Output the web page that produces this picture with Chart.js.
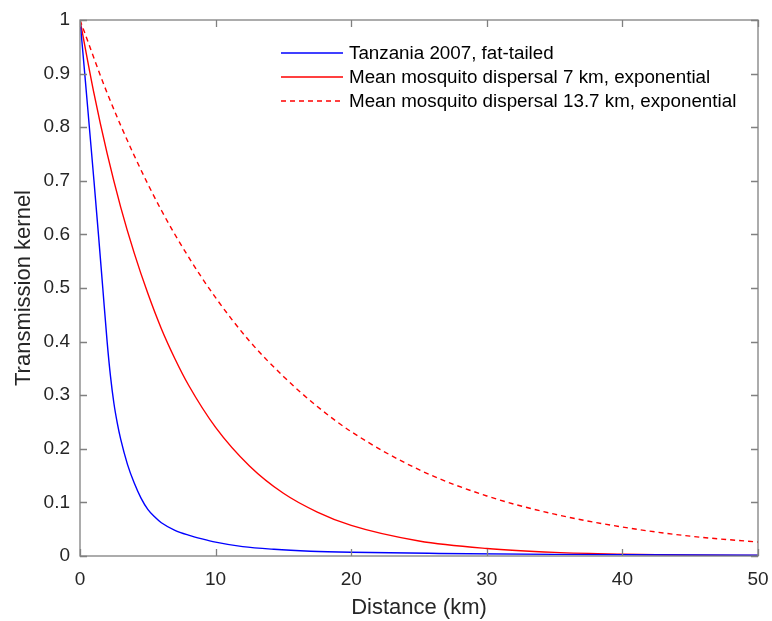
<!DOCTYPE html>
<html><head><meta charset="utf-8">
<script src="https://cdn.jsdelivr.net/npm/chart.js@4/dist/chart.umd.min.js"></script>
<style>html,body{margin:0;padding:0;background:#fff;}#wrap{width:772px;height:621px;}</style>
</head><body><div id="wrap"><canvas id="c" width="772" height="621"></canvas></div>
<script>
const seriesLabels = ["Tanzania 2007, fat-tailed", "Mean mosquito dispersal 7 km, exponential", "Mean mosquito dispersal 13.7 km, exponential"];
const tanzaniaX = [0, 0.35, 0.69, 1.03, 1.36, 1.68, 2.0, 2.25, 2.5, 2.75, 3.0, 3.5, 4.0, 4.5, 5.0, 5.5, 6.0, 7.0, 8.0, 9.0, 10, 12, 14.3, 17, 20, 26.5, 35, 50];
const tanzaniaY = [1, 0.9, 0.8, 0.7, 0.6, 0.5, 0.4, 0.335, 0.285, 0.248, 0.218, 0.171, 0.136, 0.108, 0.087, 0.073, 0.062, 0.048, 0.039, 0.032, 0.026, 0.0175, 0.0125, 0.009, 0.007, 0.0048, 0.003, 0.0015];
const disp7X = [0, 1, 2, 3, 4, 5, 6, 7, 8, 10, 12.5, 15, 17.5, 20, 25, 30, 35, 40, 45, 50];
const disp7Y = [1, 0.867, 0.751, 0.651, 0.565, 0.49, 0.424, 0.368, 0.319, 0.24, 0.168, 0.117, 0.082, 0.057, 0.028, 0.014, 0.0067, 0.0033, 0.0016, 0.0008];
const disp137X = [0, 2, 4, 6, 8, 10, 12.5, 15, 17.5, 20, 25, 30, 35, 40, 45, 50];
const disp137Y = [1, 0.864, 0.747, 0.645, 0.558, 0.482, 0.401, 0.335, 0.279, 0.232, 0.161, 0.112, 0.078, 0.054, 0.037, 0.026];
const xTicks = [0, 10, 20, 30, 40, 50];
const yTicks = [0, 0.1, 0.2, 0.3, 0.4, 0.5, 0.6, 0.7, 0.8, 0.9, 1];

const pts = (xs, ys) => xs.map((x, i) => ({x: x, y: ys[i]}));
const AX = '#808080';
const FONT = "'Liberation Sans', Arial, sans-serif";

const boxTicks = {
  id: 'boxTicks',
  afterDraw(chart) {
    const ctx = chart.ctx, a = chart.chartArea, xs = chart.scales.x, ys = chart.scales.y;
    ctx.save();
    ctx.strokeStyle = AX; ctx.lineWidth = 1.3;
    ctx.strokeRect(a.left, a.top, a.right - a.left, a.bottom - a.top);
    const L = 7;
    ctx.beginPath();
    xTicks.forEach(v => { const p = Math.round(xs.getPixelForValue(v)) + 0.5;
      ctx.moveTo(p, a.bottom); ctx.lineTo(p, a.bottom - L);
      ctx.moveTo(p, a.top); ctx.lineTo(p, a.top + L); });
    yTicks.forEach(v => { const p = Math.round(ys.getPixelForValue(v)) + 0.5;
      ctx.moveTo(a.left, p); ctx.lineTo(a.left + L, p);
      ctx.moveTo(a.right, p); ctx.lineTo(a.right - L, p); });
    ctx.stroke();
    // legend
    const lx = 281, ly = 53, dy = 24;
    chart.data.datasets.forEach((d, i) => {
      const y = ly + i * dy;
      ctx.beginPath();
      ctx.strokeStyle = d.borderColor; ctx.lineWidth = 1.3;
      ctx.setLineDash(d.borderDash || []);
      ctx.moveTo(lx, y); ctx.lineTo(lx + 62, y); ctx.stroke();
      ctx.setLineDash([]);
      ctx.fillStyle = '#000'; ctx.font = '18.8px ' + FONT;
      ctx.textBaseline = 'middle'; ctx.textAlign = 'left';
      ctx.fillText(d.label, lx + 68, y + 1);
    });
    ctx.restore();
  }
};

new Chart(document.getElementById('c'), {
  type: 'line',
  data: {
    datasets: [
      {label: seriesLabels[0], data: pts(tanzaniaX, tanzaniaY), borderColor: '#0000ff', borderWidth: 1.4, pointRadius: 0, cubicInterpolationMode: 'monotone', fill: false},
      {label: seriesLabels[1], data: pts(disp7X, disp7Y), borderColor: '#ff0000', borderWidth: 1.4, pointRadius: 0, cubicInterpolationMode: 'monotone', fill: false},
      {label: seriesLabels[2], data: pts(disp137X, disp137Y), borderColor: '#ff0000', borderWidth: 1.4, borderDash: [5, 4], pointRadius: 0, cubicInterpolationMode: 'monotone', fill: false}
    ]
  },
  options: {
    responsive: false, animation: false,
    layout: {padding: {left: 0, right: 14, top: 20, bottom: 0}},
    plugins: {legend: {display: false}, tooltip: {enabled: false}},
    scales: {
      x: {
        type: 'linear', min: 0, max: 50,
        afterBuildTicks: s => { s.ticks = xTicks.map(v => ({value: v})); },
        afterFit: s => { s.height = 65; s.paddingLeft = 0; s.paddingRight = 0; },
        grid: {display: false, drawTicks: false},
        border: {display: false},
        ticks: {color: '#262626', font: {size: 19, family: FONT}, padding: 12, maxRotation: 0},
        title: {display: true, text: 'Distance (km)', color: '#262626', font: {size: 22, family: FONT}, padding: {top: 0, bottom: 0}}
      },
      y: {
        min: 0, max: 1,
        afterBuildTicks: s => { s.ticks = yTicks.map(v => ({value: v})); },
        afterFit: s => { s.width = 80; s.paddingTop = 0; s.paddingBottom = 0; },
        grid: {display: false, drawTicks: false},
        border: {display: false},
        ticks: {color: '#262626', font: {size: 19, family: FONT}, padding: 10, callback: v => String(Math.round(v * 10) / 10)},
        title: {display: true, text: 'Transmission kernel', color: '#262626', font: {size: 22, family: FONT}, padding: {top: 11, bottom: 0}}
      }
    }
  },
  plugins: [boxTicks]
});
</script>
</body></html>
